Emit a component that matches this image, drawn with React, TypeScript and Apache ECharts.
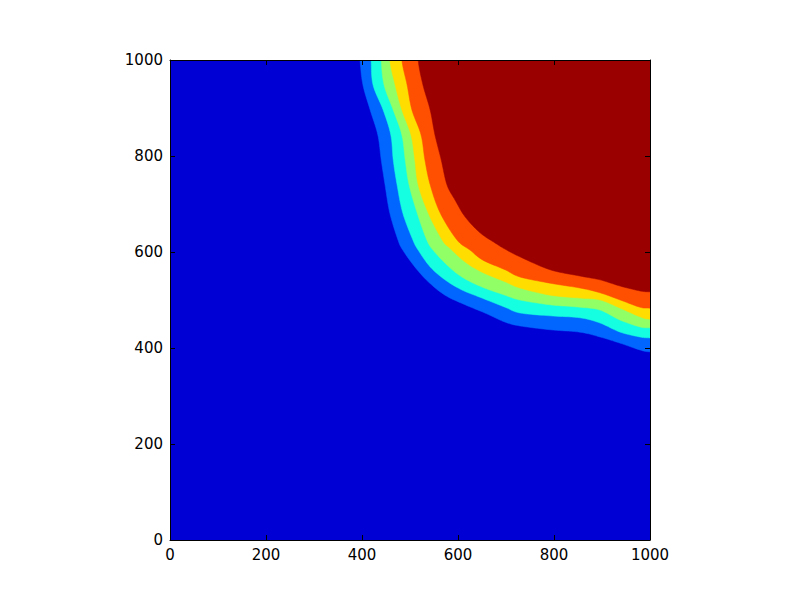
import React, { useEffect, useRef } from "react";
import * as echarts from "echarts";

// Axis settings
const axisMin = 0;
const axisMax = 1000;
const tickInterval = 200;

// Band colours (jet colormap, low -> high)
const bandColors = ["#0000d5", "#0066ff", "#15ffe1", "#91ff66", "#ffdd00", "#ff4f00", "#9b0000"];

// Contour boundaries (data coords), each from the top edge to the right edge
const contour1 = [[396,1000],[402,948],[417,896],[433,844],[440,792],[448,740],[458,681],[475,625],[485,604],[510,569],[538,538],[573,510],[615,490],[656,473],[698,454],[729,446],[792,438],[854,433],[896,423],[938,410],[979,396],[1000,392]];
const contour2 = [[419,1000],[423,948],[444,896],[460,844],[465,792],[473,740],[485,681],[506,625],[517,604],[542,569],[573,542],[608,521],[650,504],[698,485],[729,473],[792,467],[854,463],[896,452],[938,433],[979,423],[1000,421]];
const contour3 = [[440,1000],[446,948],[465,896],[483,844],[490,792],[498,740],[515,681],[535,625],[548,604],[577,573],[608,548],[650,527],[698,510],[729,500],[792,490],[854,485],[896,479],[938,458],[979,444],[1000,442]];
const contour4 = [[458,1000],[469,948],[483,896],[502,844],[510,792],[517,740],[538,681],[567,625],[583,608],[615,579],[650,558],[698,538],[729,525],[792,510],[854,504],[896,500],[938,483],[979,465],[1000,460]];
const contour5 = [[483,1000],[494,948],[504,896],[523,844],[531,792],[542,740],[563,681],[598,625],[625,604],[652,583],[698,563],[729,548],[792,535],[854,525],[896,515],[938,500],[979,485],[1000,483]];
const contour6 = [[517,1000],[527,948],[542,896],[552,844],[565,792],[577,740],[594,708],[615,673],[646,640],[677,619],[698,606],[729,590],[792,563],[854,550],[896,542],[938,529],[979,519],[1000,517]];

const contours = [contour1, contour2, contour3, contour4, contour5, contour6];

// Catmull-Rom rendering of a pixel polyline (drawing only)
function spline(pts: number[][], steps = 10): number[][] {
  const out: number[][] = [];
  const n = pts.length;
  for (let i = 0; i < n - 1; i++) {
    const p0 = pts[Math.max(0, i - 1)];
    const p1 = pts[i];
    const p2 = pts[i + 1];
    const p3 = pts[Math.min(n - 1, i + 2)];
    for (let s = 0; s < steps; s++) {
      const t = s / steps;
      const t2 = t * t;
      const t3 = t2 * t;
      const f = (a: number, b: number, c: number, d: number) =>
        0.5 * (2 * b + (-a + c) * t + (2 * a - 5 * b + 4 * c - d) * t2 + (-a + 3 * b - 3 * c + d) * t3);
      out.push([f(p0[0], p1[0], p2[0], p3[0]), f(p0[1], p1[1], p2[1], p3[1])]);
    }
  }
  out.push(pts[n - 1]);
  return out;
}

export default function App() {
  const ref = useRef<HTMLDivElement>(null);
  useEffect(() => {
    if (!ref.current) return;
    const chart = echarts.init(ref.current, undefined, { renderer: "svg" });
    const ext = axisMax + 60;
    const font = { fontFamily: "DejaVu Sans", fontSize: 15, color: "#000" };
    const baseAxis = (pos: string, showLabel: boolean) => ({
      type: "value",
      position: pos,
      min: axisMin,
      max: axisMax,
      interval: tickInterval,
      axisLine: { show: true, onZero: false, lineStyle: { color: "#000", width: 1 } },
      axisTick: { show: true, inside: true, length: 5, lineStyle: { color: "#000" } },
      axisLabel: { show: showLabel, margin: 7, formatter: (v: number) => String(v), ...font },
      splitLine: { show: false },
      z: 10,
    });
    chart.setOption({
      animation: false,
      backgroundColor: "#fff",
      grid: { left: 170, top: 60, width: 480, height: 480 },
      xAxis: [baseAxis("bottom", true), baseAxis("top", false)],
      yAxis: [baseAxis("left", true), baseAxis("right", false)],
      series: [
        {
          type: "custom",
          coordinateSystem: "cartesian2d",
          xAxisIndex: 0,
          yAxisIndex: 0,
          clip: true,
          data: bandColors.map((_, i) => [i]),
          encode: { x: -1, y: -1 },
          renderItem: (params: any, api: any) => {
            const idx = params.dataIndex;
            let pts: number[][];
            if (idx === 0) {
              pts = [[axisMin - 60, axisMin - 60], [ext, axisMin - 60], [ext, ext], [axisMin - 60, ext]].map((p) => api.coord(p));
            } else {
              const c = contours[idx - 1];
              const curve = [[c[0][0] - 2, ext], ...c, [ext, c[c.length - 1][1] - 2]].map((p) => api.coord(p));
              pts = [...spline(curve), api.coord([ext, ext])];
            }
            return {
              type: "polygon",
              shape: { points: pts },
              style: { fill: bandColors[idx], stroke: bandColors[idx], lineWidth: 0.5 },
            };
          },
        },
      ],
    });
    return () => chart.dispose();
  }, []);
  return (
    <div
      ref={ref}
      style={{ position: "absolute", left: 0, top: 0, width: 800, height: 600 }}
    />
  );
}
